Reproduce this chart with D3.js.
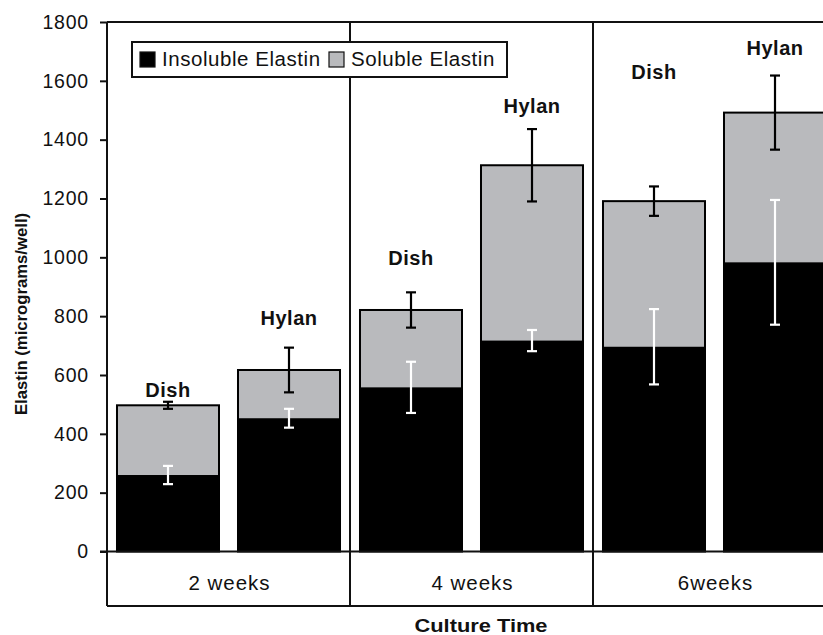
<!DOCTYPE html>
<html>
<head>
<meta charset="utf-8">
<script src="https://cdn.jsdelivr.net/npm/d3@7/dist/d3.min.js"></script>
<style>
  html, body { margin: 0; padding: 0; background: #fff; }
  svg { display: block; }
  text { font-family: Arial, "Liberation Sans", Helvetica, sans-serif; }
</style>
</head>
<body>
<svg id="chart" width="823" height="635"></svg>
<script>
// ---- data ----
const groups = ["2 weeks", "4 weeks", "6weeks"];
const substrates = ["Dish", "Hylan"];
// order: 2w Dish, 2w Hylan, 4w Dish, 4w Hylan, 6w Dish, 6w Hylan
const insoluble    = [260, 453, 558, 717, 696, 983];
const insolubleErr = [31, 32, 87, 36, 128, 212];
const soluble      = [237, 164, 263, 596, 495, 509];
const totalErr     = [12, 76, 60, 123, 50, 126];
// value (in data units) at which each bar's label baseline sits
const labelAt      = [525, 770, 974, 1491, 1606, 1688];
const yTicks = [0, 200, 400, 600, 800, 1000, 1200, 1400, 1600, 1800];
const seriesNames = ["Insoluble Elastin", "Soluble Elastin"];

(function () {
// ---- layout ----
const svg = d3.select("#chart");
const plotL = 107, plotR = 836, plotT = 22, zeroY = 551.5, boxBottom = 606;
const black = "#000", gray = "#b9babd";

const x0 = d3.scaleBand().domain(groups).range([plotL, plotR]).padding(0);
const x1 = d3.scaleBand().domain(substrates).range([0, x0.bandwidth()])
  .paddingInner(0.157).paddingOuter(0.0826);
const y = d3.scaleLinear().domain([0, 1800]).range([zeroY, plotT]);

const bars = [];
groups.forEach((g, gi) => substrates.forEach((s, si) => {
  const i = gi * 2 + si;
  bars.push({ g, s, i, ins: insoluble[i], insE: insolubleErr[i],
    tot: insoluble[i] + soluble[i], totE: totalErr[i], lab: labelAt[i] });
}));
const bx = d => x0(d.g) + x1(d.s);
const bw = x1.bandwidth();

// bars
const bg = svg.append("g");
bg.selectAll("rect.tot").data(bars).join("rect").attr("class", "tot")
  .attr("x", bx).attr("width", bw)
  .attr("y", d => y(d.tot)).attr("height", d => y(0) - y(d.tot))
  .attr("fill", gray).attr("stroke", black).attr("stroke-width", 2);
bg.selectAll("rect.ins").data(bars).join("rect").attr("class", "ins")
  .attr("x", d => bx(d) + 1).attr("width", bw - 2)
  .attr("y", d => y(d.ins)).attr("height", d => y(0) - y(d.ins))
  .attr("fill", black);

// error bars
function errBars(valF, errF, color) {
  const cap = 5;
  const g = svg.append("g").attr("stroke", color).attr("stroke-width", 2.2).attr("fill", "none");
  bars.forEach(d => {
    const cx = bx(d) + bw / 2;
    const hi = y(valF(d) + errF(d)), lo = y(valF(d) - errF(d));
    g.append("line").attr("x1", cx).attr("x2", cx).attr("y1", hi).attr("y2", lo);
    g.append("line").attr("x1", cx - cap).attr("x2", cx + cap).attr("y1", hi).attr("y2", hi);
    g.append("line").attr("x1", cx - cap).attr("x2", cx + cap).attr("y1", lo).attr("y2", lo);
  });
}
errBars(d => d.ins, d => d.insE, "#fff");
errBars(d => d.tot, d => d.totE, black);

// bar labels
svg.append("g").selectAll("text").data(bars).join("text")
  .attr("x", d => bx(d) + bw / 2).attr("y", d => y(d.lab))
  .attr("text-anchor", "middle").attr("font-size", 20).attr("font-weight", "bold")
  .attr("letter-spacing", 0.5).attr("fill", "#111").text(d => d.s);

// frame
const fr = svg.append("g").attr("stroke", "#111").attr("stroke-width", 2).attr("fill", "none");
fr.append("line").attr("x1", plotL).attr("x2", plotR).attr("y1", plotT).attr("y2", plotT);
fr.append("line").attr("x1", plotL).attr("x2", plotR).attr("y1", boxBottom).attr("y2", boxBottom);
fr.append("line").attr("x1", plotL - 7).attr("x2", plotR).attr("y1", zeroY).attr("y2", zeroY);
fr.append("line").attr("x1", plotL).attr("x2", plotL).attr("y1", plotT).attr("y2", boxBottom);
groups.slice(1).forEach(g => {
  fr.append("line").attr("x1", x0(g)).attr("x2", x0(g)).attr("y1", plotT).attr("y2", boxBottom);
});

// y axis
const ax = svg.append("g").attr("transform", `translate(${plotL},0)`)
  .call(d3.axisLeft(y).tickValues(yTicks).tickSize(7).tickPadding(11).tickFormat(d3.format("d")));
ax.select(".domain").remove();
ax.selectAll(".tick line").attr("stroke", "#111").attr("stroke-width", 2);
ax.selectAll(".tick text").attr("font-size", 19.5).attr("letter-spacing", 0.8).attr("fill", "#111")
  .style("font-family", "Arial, 'Liberation Sans', sans-serif");

// category labels
svg.append("g").selectAll("text").data(groups).join("text")
  .attr("x", g => x0(g) + x0.bandwidth() / 2 + 1)
  .attr("y", 590).attr("text-anchor", "middle").attr("font-size", 20.5)
  .attr("letter-spacing", 1).attr("fill", "#111").text(g => g);

// axis titles
svg.append("text").attr("x", 481).attr("y", 631.5).attr("text-anchor", "middle")
  .attr("font-size", 18.5).attr("font-weight", "bold").attr("fill", "#111")
  .attr("textLength", 133).attr("lengthAdjust", "spacingAndGlyphs").text("Culture Time");
svg.append("text").attr("transform", "translate(27,314) rotate(-90)")
  .attr("text-anchor", "middle").attr("font-size", 16.7).attr("font-weight", "bold")
  .attr("fill", "#111").text("Elastin (micrograms/well)");

// legend
const lg = svg.append("g");
lg.append("rect").attr("x", 132).attr("y", 42).attr("width", 375).attr("height", 35)
  .attr("fill", "#fff").attr("stroke", "#111").attr("stroke-width", 2);
const legX = [140, 329];
seriesNames.forEach((n, i) => {
  lg.append("rect").attr("x", legX[i]).attr("y", 52).attr("width", 15).attr("height", 15)
    .attr("fill", i === 0 ? black : gray).attr("stroke", "#111").attr("stroke-width", 1.2);
  lg.append("text").attr("x", legX[i] + 22).attr("y", 66).attr("font-size", 20.5)
    .attr("letter-spacing", 0.55).attr("fill", "#111").text(n);
});
})();
</script>
</body>
</html>
